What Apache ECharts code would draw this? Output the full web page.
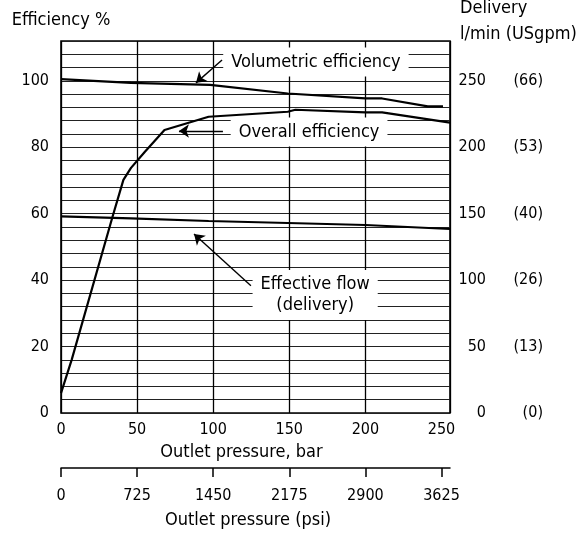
<!DOCTYPE html>
<head>
    <meta charset="utf-8">
    <title>ECharts</title>
</head>
<body style="margin:0">
    <div id="main" style="width:580px;height:535px"></div>
    <script src="https://cdn.jsdelivr.net/npm/echarts@6/dist/echarts.min.js"></script>
    <script type="text/javascript">
var myChart = echarts.init(document.getElementById('main'));

var FONT = '"DejaVu Sans Condensed", "DejaVu Sans", sans-serif';

// x axis: outlet pressure in bar (psi = bar * 14.5)
var barMax = 255.6;
var psiMax = barMax * 14.5;

// volumetric efficiency (%)
var volBar = [0, 46, 98, 149, 200, 211, 241, 251];
var volPct = [100.5, 99.4, 98.8, 96.2, 94.7, 94.7, 92.3, 92.3];

// overall efficiency (%)
var overallBar = [0, 7, 34, 41, 46, 55, 68, 97, 149, 154, 200, 211, 255.6];
var overallPct = [6, 16, 59.3, 70.2, 73.8, 78.6, 85.2, 89.2, 90.7, 91.3, 90.5, 90.5, 87.4];

// effective flow, delivery l/min
var flowBar = [0, 46, 97, 149, 200, 255.6];
var flowLmin = [148, 146.5, 144.5, 143, 141.5, 138.5];

// right axis labels
var deliveryTicks = [0, 50, 100, 150, 200, 250];
var gpmTicks = ['(0)', '(13)', '(26)', '(40)', '(53)', '(66)'];

// annotations (bar, %)
var noteText = ['Volumetric efficiency', 'Overall efficiency', 'Effective flow\n(delivery)'];
var notePos = [[167.5, 105.7], [163, 84.6], [167, 35.5]];
var arrowFrom = [[105.8, 106.3], [106.4, 84.9], [124.8, 38.3]];
var arrowTo = [[88.7, 99.4], [77.5, 84.9], [87.4, 53.9]];

function pairs(xs, ys) {
    return xs.map(function (x, i) { return [x, ys[i]]; });
}

var lineStyle = { color: '#000', width: 2.2 };

option = {
    animation: false,
    grid: [
        { left: 61, right: 130, top: 41, bottom: 122, show: true, borderColor: '#000', borderWidth: 1.6, outerBoundsMode: 'none' },
        { left: 61, right: 130, top: 467, height: 1, show: false, outerBoundsMode: 'none' }
    ],
    xAxis: [
        {
            type: 'value', gridIndex: 0, min: 0, max: barMax, interval: 50,
            name: 'Outlet pressure, bar', nameLocation: 'middle', nameGap: 28,
            nameTextStyle: { fontFamily: FONT, fontSize: 18, color: '#000', padding: [0, 28, 0, 0] },
            axisLine: { show: false }, axisTick: { show: false },
            axisLabel: { showMaxLabel: false, margin: 9, fontFamily: FONT, fontSize: 16, color: '#000' },
            splitLine: { show: true, lineStyle: { color: ['#000', '#000', '#000', '#000', '#000', 'rgba(0,0,0,0)', '#000'], width: 1.3 } }
        },
        {
            type: 'value', gridIndex: 1, min: 0, max: psiMax, interval: 725, position: 'bottom',
            name: 'Outlet pressure (psi)', nameLocation: 'middle', nameGap: 43,
            nameTextStyle: { fontFamily: FONT, fontSize: 18, color: '#000', padding: [0, 15, 0, 0] },
            axisLine: { show: true, lineStyle: { color: '#000', width: 1.5 } },
            axisTick: { show: true, inside: false, length: 9, lineStyle: { color: '#000', width: 1.5 } },
            axisLabel: {
                showMaxLabel: false, margin: 20, fontFamily: FONT, fontSize: 16, color: '#000',
                formatter: function (v) { return String(v); }
            },
            splitLine: { show: false }
        }
    ],
    yAxis: [
        {
            type: 'value', gridIndex: 0, min: 0, max: 112, interval: 4,
            name: 'Efficiency %', nameLocation: 'end', nameGap: 12,
            nameTextStyle: { fontFamily: FONT, fontSize: 18, color: '#000' },
            axisLine: { show: false }, axisTick: { show: false },
            axisLabel: {
                margin: 12, fontFamily: FONT, fontSize: 16, color: '#000',
                formatter: function (v) { return v % 20 === 0 && v <= 100 ? String(v) : ''; }
            },
            splitLine: { show: true, lineStyle: { color: '#222', width: 1 } }
        },
        {
            type: 'value', gridIndex: 0, min: 0, max: 280, interval: 10, position: 'right',
            name: 'Delivery\nl/min (USgpm)', nameLocation: 'end', nameGap: -6,
            nameTextStyle: {
                fontFamily: FONT, fontSize: 18, color: '#000', align: 'left',
                verticalAlign: 'bottom', lineHeight: 26, padding: [0, 0, 0, 10]
            },
            axisLine: { show: false }, axisTick: { show: false },
            axisLabel: {
                margin: 8,
                formatter: function (v) {
                    var i = deliveryTicks.indexOf(v);
                    return i < 0 ? '' : '{a|' + v + '}{b|' + gpmTicks[i] + '}';
                },
                rich: {
                    a: { width: 28, align: 'right', fontFamily: FONT, fontSize: 16, color: '#000' },
                    b: { width: 57, align: 'right', fontFamily: FONT, fontSize: 16, color: '#000' }
                }
            },
            splitLine: { show: false }
        },
        { type: 'value', gridIndex: 1, show: false }
    ],
    series: [
        {
            name: 'Volumetric efficiency', type: 'line', xAxisIndex: 0, yAxisIndex: 0,
            data: pairs(volBar, volPct), showSymbol: false, lineStyle: lineStyle, z: 3,
            markPoint: {
                silent: true, symbol: 'rect', symbolSize: 1, itemStyle: { color: 'rgba(0,0,0,0)' },
                label: {
                    show: true, position: 'inside', fontFamily: FONT, fontSize: 18, color: '#000',
                    lineHeight: 21, backgroundColor: '#fff', padding: [4, 8]
                },
                data: noteText.map(function (t, i) {
                    return { coord: notePos[i], value: t, label: { formatter: t } };
                })
            },
            markLine: {
                silent: true, symbol: ['none', 'arrow'], symbolSize: 10,
                label: { show: false },
                lineStyle: { color: '#000', width: 1.4, type: 'solid' },
                data: arrowFrom.map(function (p, i) {
                    return [{ coord: p }, { coord: arrowTo[i] }];
                })
            }
        },
        {
            name: 'Overall efficiency', type: 'line', xAxisIndex: 0, yAxisIndex: 0,
            data: pairs(overallBar, overallPct), showSymbol: false, lineStyle: lineStyle, z: 3
        },
        {
            name: 'Effective flow', type: 'line', xAxisIndex: 0, yAxisIndex: 1,
            data: pairs(flowBar, flowLmin), showSymbol: false, lineStyle: lineStyle, z: 3
        }
    ]
};

myChart.setOption(option);
    </script>
</body>
